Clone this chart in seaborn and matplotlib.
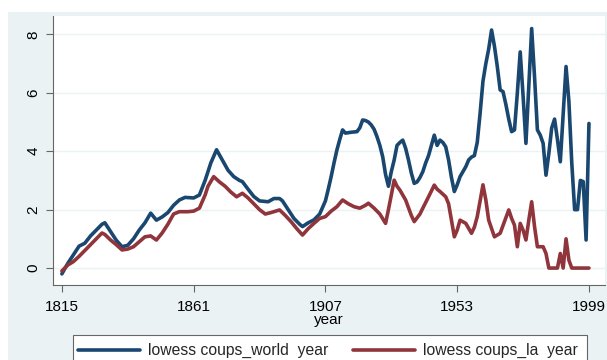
import matplotlib
matplotlib.use("Agg")
import matplotlib.pyplot as plt
from matplotlib.patches import Rectangle
from matplotlib.lines import Line2D
import pandas as pd
import seaborn as sns

# lowess-smoothed coup counts, world
world_years = [1815, 1817, 1819, 1821, 1823, 1825, 1827, 1829, 1830, 1832, 1834, 1836,
               1838, 1840, 1842, 1844, 1846, 1848, 1850, 1852, 1854, 1856, 1858, 1861,
               1863, 1865, 1867, 1869, 1871, 1873, 1875, 1877, 1878, 1880, 1882, 1884,
               1887, 1889, 1891, 1892, 1894, 1896, 1898, 1899, 1901, 1903, 1905, 1907,
               1908, 1909, 1910, 1911, 1912, 1913, 1914, 1916, 1918, 1919, 1920, 1921,
               1922, 1923, 1924, 1925, 1926, 1927, 1928, 1929, 1930, 1931, 1932, 1933,
               1934, 1935, 1936, 1937, 1938, 1939, 1940, 1941, 1942, 1943, 1944, 1945,
               1946, 1947, 1948, 1949, 1950, 1951, 1952, 1953, 1954, 1955, 1956, 1957,
               1958, 1959, 1960, 1961, 1962, 1963, 1964, 1965, 1966, 1967, 1968, 1969,
               1970, 1971, 1972, 1973, 1974, 1975, 1976, 1977, 1978, 1979, 1980, 1981,
               1982, 1983, 1984, 1985, 1986, 1987, 1988, 1989, 1991, 1992, 1993, 1994,
               1995, 1996, 1997, 1998, 1999]
world_vals = [-0.2, 0.15, 0.45, 0.75, 0.85, 1.1, 1.3, 1.5, 1.55, 1.25, 0.95, 0.73,
              0.78, 1.0, 1.3, 1.55, 1.88, 1.64, 1.75, 1.9, 2.15, 2.33, 2.42, 2.4,
              2.5, 3.0, 3.6, 4.05, 3.7, 3.35, 3.13, 3.0, 2.96, 2.7, 2.45, 2.3,
              2.27, 2.38, 2.38, 2.3, 2.0, 1.7, 1.5, 1.42, 1.55, 1.65, 1.85, 2.3,
              2.7, 3.13, 3.6, 4.04, 4.4, 4.73, 4.62, 4.65, 4.67, 4.8, 5.07, 5.05,
              5.0, 4.9, 4.75, 4.5, 4.2, 3.81, 3.2, 2.8, 3.3, 3.7, 4.2, 4.3,
              4.38, 4.1, 3.7, 3.25, 2.9, 2.95, 3.1, 3.3, 3.6, 3.85, 4.2, 4.55,
              4.2, 4.38, 4.3, 4.15, 3.7, 3.1, 2.62, 2.85, 3.13, 3.3, 3.47, 3.7,
              3.8, 3.85, 4.3, 5.3, 6.4, 7.0, 7.5, 8.15, 7.6, 6.9, 6.1, 6.04,
              5.6, 5.1, 4.67, 4.73, 6.0, 7.4, 5.9, 4.27, 6.2, 8.2, 6.55, 4.73,
              4.55, 4.27, 3.18, 3.93, 4.8, 5.1, 4.4, 3.64, 6.9, 5.7, 3.6, 2.0,
              2.0, 3.0, 2.96, 0.96, 4.95]

# lowess-smoothed coup counts, Latin America
la_years = [1815, 1817, 1819, 1821, 1823, 1825, 1827, 1829, 1830, 1832, 1834, 1836,
            1838, 1840, 1842, 1844, 1846, 1848, 1850, 1852, 1854, 1856, 1859, 1861,
            1863, 1865, 1866, 1868, 1870, 1872, 1874, 1876, 1878, 1880, 1882, 1884,
            1886, 1888, 1891, 1893, 1895, 1897, 1899, 1901, 1903, 1905, 1907, 1909,
            1911, 1913, 1915, 1917, 1919, 1921, 1922, 1924, 1926, 1928, 1929, 1930,
            1931, 1932, 1933, 1935, 1937, 1938, 1940, 1941, 1943, 1945, 1946, 1947,
            1949, 1950, 1951, 1952, 1953, 1954, 1956, 1958, 1959, 1960, 1961, 1962,
            1963, 1964, 1966, 1968, 1971, 1972, 1973, 1974, 1975, 1976, 1977, 1978,
            1979, 1980, 1981, 1983, 1984, 1985, 1988, 1989, 1990, 1991, 1992, 1993,
            1999]
la_vals = [-0.1, 0.1, 0.22, 0.4, 0.6, 0.8, 1.0, 1.2, 1.15, 0.96, 0.8, 0.62,
           0.65, 0.73, 0.9, 1.07, 1.1, 0.96, 1.2, 1.5, 1.85, 1.93, 1.93, 1.95,
           2.05, 2.5, 2.8, 3.13, 2.95, 2.8, 2.6, 2.44, 2.56, 2.4, 2.2, 2.0,
           1.85, 1.9, 1.99, 1.8, 1.59, 1.35, 1.13, 1.35, 1.53, 1.7, 1.76, 1.95,
           2.1, 2.33, 2.2, 2.1, 2.05, 2.15, 2.22, 2.05, 1.85, 1.53, 2.0, 2.5,
           3.01, 2.8, 2.67, 2.33, 1.8, 1.59, 1.85, 2.05, 2.44, 2.84, 2.7, 2.62,
           2.44, 2.2, 1.64, 1.07, 1.3, 1.64, 1.53, 1.19, 1.4, 1.76, 2.3, 2.85,
           2.33, 1.64, 1.07, 1.19, 1.99, 1.7, 1.47, 0.73, 1.53, 1.3, 0.96, 1.64,
           2.27, 1.42, 0.73, 0.73, 0.5, 0.0, 0.0, 0.5, 0.0, 1.0, 0.27, 0.0,
           0.0]

series_labels = ["lowess coups_world  year", "lowess coups_la  year"]
series_colors = ["#1A476F", "#90353B"]
x_ticks = [1815, 1861, 1907, 1953, 1999]
y_ticks = [0, 2, 4, 6, 8]

df = pd.concat([
    pd.DataFrame({"year": world_years, "value": world_vals, "series": series_labels[0]}),
    pd.DataFrame({"year": la_years, "value": la_vals, "series": series_labels[1]}),
], ignore_index=True)

sns.set_theme(style="white")
plt.rcParams["font.family"] = ["Liberation Sans", "DejaVu Sans"]

W, H = 607, 360
fig = plt.figure(figsize=(W / 100, H / 100), dpi=100, facecolor="white")

# graph region background
fig.patches.append(Rectangle((8 / W, 0), 1 - 8 / W, 1 - 12 / H,
                             transform=fig.transFigure, facecolor="#EAF2F3",
                             edgecolor="none", zorder=-5))

ax = fig.add_axes([53 / W, 1 - 285 / H, (605 - 53) / W, (285 - 16) / H])
ax.set_facecolor("white")

sns.lineplot(data=df, x="year", y="value", hue="series", palette=series_colors,
             hue_order=series_labels, estimator=None, sort=False, linewidth=2.6,
             legend=False, ax=ax, zorder=3)

ax.set_xlim(1811.9, 2004.6)
ax.set_ylim(-0.58, 8.63)
ax.set_xticks(x_ticks)
ax.set_yticks(y_ticks)
ax.set_xticklabels([str(t) for t in x_ticks])
ax.set_yticklabels([str(t) for t in y_ticks], rotation=90, va="center")
ax.grid(axis="y", color="#EAF2F3", linewidth=1.0)
ax.set_axisbelow(True)

for side in ["top", "right"]:
    ax.spines[side].set_visible(False)
for side in ["left", "bottom"]:
    ax.spines[side].set_color("#666666")
    ax.spines[side].set_linewidth(0.8)

ax.tick_params(axis="both", which="both", length=5, width=0.8, color="#666666",
               labelsize=11, labelcolor="black", direction="out",
               left=True, bottom=True)
ax.tick_params(axis="x", pad=6)
ax.tick_params(axis="y", pad=4)
ax.set_xlabel("year", fontsize=11, labelpad=-1, color="black")
ax.set_ylabel("")

handles = [Line2D([0], [0], color=c, linewidth=2.6) for c in series_colors]
leg = fig.legend(handles, series_labels, loc="upper left",
                 bbox_to_anchor=(73 / W, 1 - 338 / H),
                 ncol=2, fontsize=11.3, frameon=False, handlelength=3.95,
                 handletextpad=0.5, columnspacing=1.6, borderaxespad=0.0,
                 borderpad=0.32)

# legend box, running past the lower edge of the image
fig.patches.append(Rectangle((73 / W, -0.05), (587 - 73) / W, 0.05 + (H - 335) / H,
                             transform=fig.transFigure, facecolor="white",
                             edgecolor="#666666", linewidth=0.8, zorder=-1))

fig.savefig("out.png", dpi=100, facecolor="white")
